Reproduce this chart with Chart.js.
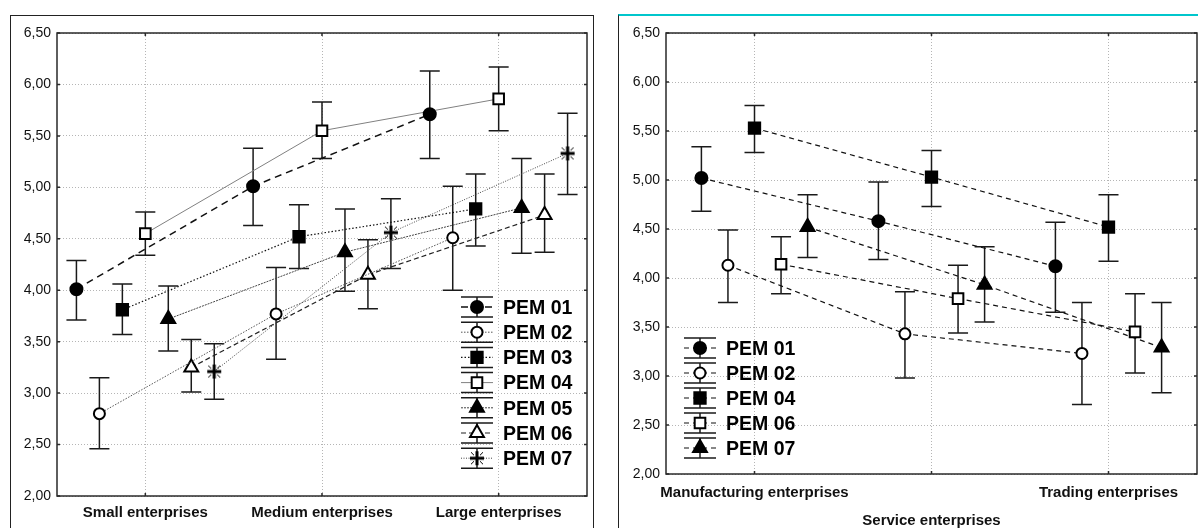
<!DOCTYPE html>
<html>
<head>
<meta charset="utf-8">
<script src="https://cdn.jsdelivr.net/npm/chart.js@4.4.1/dist/chart.umd.min.js"></script>
<style>
    body { margin: 0; background: #fff; width: 1198px; height: 528px; overflow: hidden; position: relative; }
    .panel { position: absolute; box-sizing: border-box; }
    #panelLeft { left: 10px; top: 15px; width: 584px; height: 600px; border: 1.5px solid #222; }
    #panelRight { left: 618px; top: 14px; width: 700px; height: 600px; border-left: 1.5px solid #222; border-top: 2px solid #00c6cc; }
    canvas { position: absolute; top: 0; }
    #leftChart { left: 0; }
    #rightChart { left: 600px; }
</style>
</head>
<body>
<div class="panel" id="panelLeft"></div>
<div class="panel" id="panelRight"></div>
<canvas id="leftChart" width="599" height="528"></canvas>
<canvas id="rightChart" width="598" height="528"></canvas>
<script>
// ---------- data: left chart (by enterprise size) ----------
const leftCategories = ['Small enterprises', 'Medium enterprises', 'Large enterprises'];
const leftSeries = ['PEM 01', 'PEM 02', 'PEM 03', 'PEM 04', 'PEM 05', 'PEM 06', 'PEM 07'];
const leftMeans = [
    [4.01, 5.01, 5.71],
    [2.80, 3.77, 4.51],
    [3.81, 4.52, 4.79],
    [4.55, 5.55, 5.86],
    [3.72, 4.37, 4.80],
    [3.25, 4.15, 4.73],
    [3.21, 4.56, 5.33]
];
const leftLower = [
    [3.71, 4.63, 5.28],
    [2.46, 3.33, 4.00],
    [3.57, 4.21, 4.43],
    [4.34, 5.28, 5.55],
    [3.41, 3.99, 4.36],
    [3.01, 3.82, 4.37],
    [2.94, 4.21, 4.93]
];
const leftUpper = [
    [4.29, 5.38, 6.13],
    [3.15, 4.22, 5.01],
    [4.06, 4.83, 5.13],
    [4.76, 5.83, 6.17],
    [4.04, 4.79, 5.28],
    [3.52, 4.49, 5.13],
    [3.48, 4.89, 5.72]
];

// ---------- data: right chart (by sector) ----------
const rightCategories = ['Manufacturing enterprises', 'Service enterprises', 'Trading enterprises'];
const rightSeries = ['PEM 01', 'PEM 02', 'PEM 04', 'PEM 06', 'PEM 07'];
const rightMeans = [
    [5.02, 4.58, 4.12],
    [4.13, 3.43, 3.23],
    [5.53, 5.03, 4.52],
    [4.14, 3.79, 3.45],
    [4.52, 3.93, 3.29]
];
const rightLower = [
    [4.68, 4.19, 3.65],
    [3.75, 2.98, 2.71],
    [5.28, 4.73, 4.17],
    [3.84, 3.44, 3.03],
    [4.21, 3.55, 2.83]
];
const rightUpper = [
    [5.34, 4.98, 4.57],
    [4.49, 3.86, 3.75],
    [5.76, 5.30, 4.85],
    [4.42, 4.13, 3.84],
    [4.85, 4.32, 3.75]
];

// y axis ticks
const yMin = 2.0;
const yMax = 6.5;
const yStep = 0.5;

const FONT = 'Arial, "Liberation Sans", sans-serif';

// bold plus with thin diagonal rays (PEM 07 marker on the left)
function makeBurst() {
    const c = document.createElement('canvas');
    c.width = 18; c.height = 18;
    const g = c.getContext('2d');
    g.strokeStyle = '#000';
    g.lineWidth = 3;
    g.beginPath();
    g.moveTo(9, 2); g.lineTo(9, 16);
    g.moveTo(2, 9); g.lineTo(16, 9);
    g.stroke();
    g.lineWidth = 1;
    g.beginPath();
    g.moveTo(3, 3); g.lineTo(6, 6); g.moveTo(15, 3); g.lineTo(12, 6);
    g.moveTo(3, 15); g.lineTo(6, 12); g.moveTo(15, 15); g.lineTo(12, 12);
    g.stroke();
    return c;
}
const burst = makeBurst();

// marker + line style per series
const leftStyles = [
    { pointStyle: 'circle',   fill: '#000', radius: 6, dash: [7, 5],     lineColor: '#111', lineWidth: 1.5 },
    { pointStyle: 'circle',   fill: '#fff', radius: 5.5, dash: [1.5, 1.5], lineColor: '#555', lineWidth: 1 },
    { pointStyle: 'rect',     fill: '#000', radius: 8, dash: [1.5, 2],   lineColor: '#111', lineWidth: 1.2 },
    { pointStyle: 'rect',     fill: '#fff', radius: 7.5, dash: [],       lineColor: '#808080', lineWidth: 1 },
    { pointStyle: 'triangle', fill: '#000', radius: 8, dash: [2, 1],     lineColor: '#444', lineWidth: 1 },
    { pointStyle: 'triangle', fill: '#fff', radius: 8, dash: [5, 3],     lineColor: '#222', lineWidth: 1.2 },
    { pointStyle: burst,      fill: '#000', radius: 8, dash: [1, 1.5],   lineColor: '#444', lineWidth: 1 }
];
const rightStyles = [
    { pointStyle: 'circle',   fill: '#000', radius: 6,   dash: [5, 4], lineColor: '#111', lineWidth: 1.2 },
    { pointStyle: 'circle',   fill: '#fff', radius: 5.5, dash: [5, 4], lineColor: '#111', lineWidth: 1.2 },
    { pointStyle: 'rect',     fill: '#000', radius: 8,   dash: [5, 4], lineColor: '#111', lineWidth: 1.2 },
    { pointStyle: 'rect',     fill: '#fff', radius: 7.5, dash: [5, 4], lineColor: '#111', lineWidth: 1.2 },
    { pointStyle: 'triangle', fill: '#000', radius: 8,   dash: [5, 4], lineColor: '#111', lineWidth: 1.2 }
];

function buildDatasets(names, means, lower, upper, styles, spread) {
    const mid = (names.length - 1) / 2;
    return names.map((name, s) => {
        const st = styles[s];
        return {
            label: name,
            data: means[s].map((v, c) => ({ x: c + 1 + (s - mid) * spread, y: v })),
            errLow: lower[s],
            errHigh: upper[s],
            borderColor: st.lineColor,
            borderWidth: st.lineWidth,
            borderDash: st.dash,
            pointStyle: st.pointStyle,
            pointRadius: st.radius,
            pointBackgroundColor: st.fill,
            pointBorderColor: '#000',
            pointBorderWidth: 2,
            tension: 0,
            fill: false
        };
    });
}

// vertical error bars with caps
const errorBars = {
    id: 'errorBars',
    beforeDatasetsDraw(chart) {
        const ctx = chart.ctx;
        const yScale = chart.scales.y;
        chart.data.datasets.forEach((ds, i) => {
            chart.getDatasetMeta(i).data.forEach((pt, j) => {
                const top = yScale.getPixelForValue(ds.errHigh[j]);
                const bot = yScale.getPixelForValue(ds.errLow[j]);
                ctx.save();
                ctx.strokeStyle = '#1a1a1a';
                ctx.lineWidth = 1.5;
                ctx.beginPath();
                ctx.moveTo(pt.x, top); ctx.lineTo(pt.x, bot);
                ctx.moveTo(pt.x - 10, top); ctx.lineTo(pt.x + 10, top);
                ctx.moveTo(pt.x - 10, bot); ctx.lineTo(pt.x + 10, bot);
                ctx.stroke();
                ctx.restore();
            });
        });
    }
};

// plot frame with small inner tick marks
const plotFrame = {
    id: 'plotFrame',
    afterDraw(chart) {
        const { ctx, chartArea: a, scales } = chart;
        ctx.save();
        ctx.strokeStyle = '#2a2a2a';
        ctx.lineWidth = 1.5;
        ctx.strokeRect(a.left, a.top, a.right - a.left, a.bottom - a.top);
        ctx.beginPath();
        scales.y.ticks.forEach(t => {
            const py = scales.y.getPixelForValue(t.value);
            ctx.moveTo(a.left, py); ctx.lineTo(a.left + 3, py);
            ctx.moveTo(a.right - 3, py); ctx.lineTo(a.right, py);
        });
        scales.x.ticks.forEach(t => {
            const px = scales.x.getPixelForValue(t.value);
            ctx.moveTo(px, a.top); ctx.lineTo(px, a.top + 3);
            ctx.moveTo(px, a.bottom - 3); ctx.lineTo(px, a.bottom);
        });
        ctx.stroke();
        ctx.restore();
    }
};

// in-plot legend, each key shows the error bar, line style and marker
const boxLegend = {
    id: 'boxLegend',
    afterDraw(chart, args, opts) {
        const ctx = chart.ctx;
        chart.data.datasets.forEach((ds, i) => {
            const cy = opts.y0 + i * opts.dy;
            const cx = opts.cx;
            ctx.save();
            ctx.strokeStyle = '#1a1a1a';
            ctx.lineWidth = 1.5;
            ctx.beginPath();
            ctx.moveTo(cx - 16, cy - 10); ctx.lineTo(cx + 16, cy - 10);
            ctx.moveTo(cx - 16, cy + 10); ctx.lineTo(cx + 16, cy + 10);
            ctx.moveTo(cx, cy - 10); ctx.lineTo(cx, cy + 10);
            ctx.stroke();
            ctx.strokeStyle = ds.borderColor;
            ctx.lineWidth = ds.borderWidth;
            ctx.setLineDash(ds.borderDash);
            ctx.beginPath();
            ctx.moveTo(cx - 16, cy); ctx.lineTo(cx + 16, cy);
            ctx.stroke();
            ctx.setLineDash([]);
            ctx.fillStyle = ds.pointBackgroundColor;
            ctx.strokeStyle = ds.pointBorderColor;
            ctx.lineWidth = ds.pointBorderWidth;
            Chart.helpers.drawPoint(ctx, {
                pointStyle: ds.pointStyle,
                radius: ds.pointRadius,
                rotation: 0,
                borderWidth: ds.pointBorderWidth
            }, cx, cy);
            ctx.fillStyle = '#000';
            ctx.font = 'bold 21px ' + FONT;
            ctx.textBaseline = 'middle';
            ctx.translate(opts.textX, cy + 1);
            ctx.scale(0.93, 1);
            ctx.fillText(ds.label, 0, 0);
            ctx.restore();
        });
    }
};

function makeChart(canvasId, categories, datasets, layout, legendOpts, stagger) {
    return new Chart(document.getElementById(canvasId), {
        type: 'line',
        data: { datasets },
        options: {
            responsive: false,
            animation: false,
            devicePixelRatio: 1,
            events: [],
            layout: { autoPadding: false, padding: { top: 33, right: layout.right, left: 0, bottom: 0 } },
            plugins: {
                legend: { display: false },
                tooltip: { enabled: false },
                boxLegend: legendOpts
            },
            scales: {
                x: {
                    type: 'linear',
                    min: 0.5,
                    max: 3.5,
                    afterBuildTicks: scale => { scale.ticks = categories.map((c, i) => ({ value: i + 1 })); },
                    afterFit: scale => {
                        scale.height = layout.xHeight;
                        scale.paddingLeft = 0;
                        scale.paddingRight = 0;
                    },
                    grid: { color: '#b5b5b5', lineWidth: 1, drawTicks: false },
                    border: { display: false, dash: [1, 2] },
                    ticks: {
                        autoSkip: false,
                        maxRotation: 0,
                        padding: layout.xPad,
                        color: '#111',
                        font: { family: FONT, size: 15, weight: 'bold', lineHeight: 1.85 },
                        callback: (v, i) => {
                            const label = categories[Math.round(v) - 1];
                            return (stagger && i % 2 === 1) ? ['', label] : label;
                        }
                    }
                },
                y: {
                    min: yMin,
                    max: yMax,
                    afterFit: scale => { scale.width = layout.yWidth; },
                    grid: { color: '#b5b5b5', lineWidth: 1, drawTicks: false },
                    border: { display: false, dash: [1, 2] },
                    ticks: {
                        stepSize: yStep,
                        padding: 6,
                        color: '#111',
                        font: { family: FONT, size: 14 },
                        callback: v => v.toFixed(2).replace('.', ',')
                    }
                }
            }
        },
        plugins: [errorBars, plotFrame, boxLegend]
    });
}

makeChart('leftChart', leftCategories,
    buildDatasets(leftSeries, leftMeans, leftLower, leftUpper, leftStyles, 0.13),
    { right: 12, xHeight: 32, xPad: 3, yWidth: 57 },
    { cx: 477, y0: 307, dy: 25.2, textX: 503 },
    false);

makeChart('rightChart', rightCategories,
    buildDatasets(rightSeries, rightMeans, rightLower, rightUpper, rightStyles, 0.15),
    { right: 1, xHeight: 54, xPad: 5, yWidth: 66 },
    { cx: 100, y0: 348, dy: 25, textX: 126 },
    true);
</script>
</body>
</html>
